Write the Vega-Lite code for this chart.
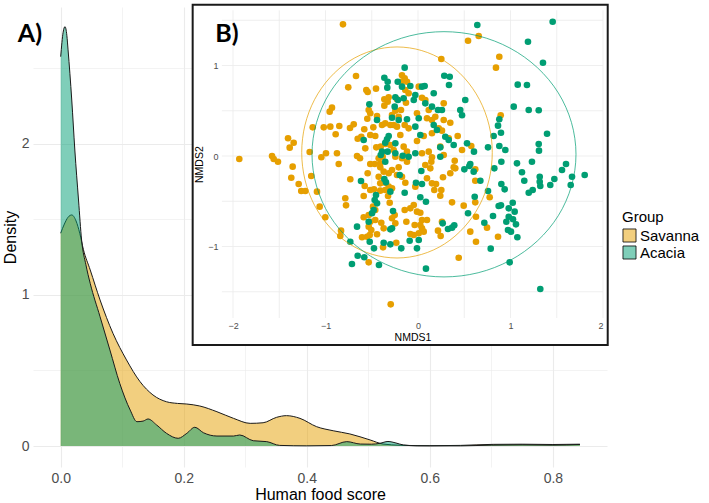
{
"$schema":"https://vega.github.io/schema/vega-lite/v6.json",
"width":574,"height":460,
"autosize":{"type":"none"},
"padding":{"left":33,"top":7,"right":102,"bottom":36},
"background":"white",
"config":{"view":{"stroke":null},"font":"Liberation Sans"},
"datasets":{
"density":[
{"Group":"Savanna","score":0.000,"density":1.409},{"Group":"Savanna","score":0.006,"density":1.47},{"Group":"Savanna","score":0.012,"density":1.515},{"Group":"Savanna","score":0.018,"density":1.530},{"Group":"Savanna","score":0.025,"density":1.49},{"Group":"Savanna","score":0.031,"density":1.409},{"Group":"Savanna","score":0.037,"density":1.30},{"Group":"Savanna","score":0.048,"density":1.166},{"Group":"Savanna","score":0.064,"density":0.967},{"Group":"Savanna","score":0.085,"density":0.746},{"Group":"Savanna","score":0.107,"density":0.570},{"Group":"Savanna","score":0.129,"density":0.426},{"Group":"Savanna","score":0.150,"density":0.338},{"Group":"Savanna","score":0.172,"density":0.293},{"Group":"Savanna","score":0.190,"density":0.282},{"Group":"Savanna","score":0.205,"density":0.278},{"Group":"Savanna","score":0.226,"density":0.265},{"Group":"Savanna","score":0.254,"density":0.227},{"Group":"Savanna","score":0.281,"density":0.183},{"Group":"Savanna","score":0.308,"density":0.150},{"Group":"Savanna","score":0.329,"density":0.154},{"Group":"Savanna","score":0.351,"density":0.190},{"Group":"Savanna","score":0.367,"density":0.201},{"Group":"Savanna","score":0.389,"density":0.183},{"Group":"Savanna","score":0.416,"density":0.128},{"Group":"Savanna","score":0.443,"density":0.101},{"Group":"Savanna","score":0.470,"density":0.080},{"Group":"Savanna","score":0.503,"density":0.040},{"Group":"Savanna","score":0.524,"density":0.013},{"Group":"Savanna","score":0.552,"density":0.005},{"Group":"Savanna","score":0.600,"density":0.002},{"Group":"Savanna","score":0.650,"density":0.004},{"Group":"Savanna","score":0.703,"density":0.011},{"Group":"Savanna","score":0.750,"density":0.012},{"Group":"Savanna","score":0.800,"density":0.010},{"Group":"Savanna","score":0.844,"density":0.012},
{"Group":"Acacia","score":0.000,"density":2.578},{"Group":"Acacia","score":0.004,"density":2.74},{"Group":"Acacia","score":0.007,"density":2.777},{"Group":"Acacia","score":0.010,"density":2.72},{"Group":"Acacia","score":0.012,"density":2.623},{"Group":"Acacia","score":0.018,"density":2.291},{"Group":"Acacia","score":0.023,"density":1.960},{"Group":"Acacia","score":0.029,"density":1.629},{"Group":"Acacia","score":0.034,"density":1.364},{"Group":"Acacia","score":0.041,"density":1.20},{"Group":"Acacia","score":0.048,"density":1.077},{"Group":"Acacia","score":0.064,"density":0.856},{"Group":"Acacia","score":0.080,"density":0.636},{"Group":"Acacia","score":0.096,"density":0.415},{"Group":"Acacia","score":0.113,"density":0.238},{"Group":"Acacia","score":0.124,"density":0.161},{"Group":"Acacia","score":0.134,"density":0.165},{"Group":"Acacia","score":0.142,"density":0.179},{"Group":"Acacia","score":0.156,"density":0.139},{"Group":"Acacia","score":0.172,"density":0.084},{"Group":"Acacia","score":0.191,"density":0.051},{"Group":"Acacia","score":0.205,"density":0.084},{"Group":"Acacia","score":0.218,"density":0.124},{"Group":"Acacia","score":0.232,"density":0.088},{"Group":"Acacia","score":0.254,"density":0.066},{"Group":"Acacia","score":0.281,"density":0.066},{"Group":"Acacia","score":0.291,"density":0.073},{"Group":"Acacia","score":0.313,"density":0.035},{"Group":"Acacia","score":0.335,"density":0.029},{"Group":"Acacia","score":0.356,"density":0.004},{"Group":"Acacia","score":0.400,"density":0.001},{"Group":"Acacia","score":0.440,"density":0.003},{"Group":"Acacia","score":0.465,"density":0.029},{"Group":"Acacia","score":0.487,"density":0.013},{"Group":"Acacia","score":0.505,"density":0.012},{"Group":"Acacia","score":0.519,"density":0.018},{"Group":"Acacia","score":0.532,"density":0.030},{"Group":"Acacia","score":0.545,"density":0.020},{"Group":"Acacia","score":0.557,"density":0.007},{"Group":"Acacia","score":0.580,"density":0.001},{"Group":"Acacia","score":0.650,"density":0.001},{"Group":"Acacia","score":0.700,"density":0.006},{"Group":"Acacia","score":0.750,"density":0.008},{"Group":"Acacia","score":0.800,"density":0.006},{"Group":"Acacia","score":0.844,"density":0.010}
],
"labelA":[{"label":"A)","score":-0.05,"density":2.725}],
"box":[{"NMDS1":-2.436,"NMDS1b":2.051,"NMDS2":-2.088,"NMDS2b":1.672}],
"gridV":[{"NMDS1":-2,"NMDS2":-1.79,"NMDS2b":1.61},{"NMDS1":-1.5,"NMDS2":-1.79,"NMDS2b":1.61},{"NMDS1":-1,"NMDS2":-1.79,"NMDS2b":1.61},{"NMDS1":-0.5,"NMDS2":-1.79,"NMDS2b":1.61},{"NMDS1":0,"NMDS2":-1.79,"NMDS2b":1.61},{"NMDS1":0.5,"NMDS2":-1.79,"NMDS2b":1.61},{"NMDS1":1,"NMDS2":-1.79,"NMDS2b":1.61},{"NMDS1":1.5,"NMDS2":-1.79,"NMDS2b":1.61},{"NMDS1":2,"NMDS2":-1.79,"NMDS2b":1.61}],
"gridH":[{"NMDS2":-1.5,"NMDS1":-2.12,"NMDS1b":2.0},{"NMDS2":-1,"NMDS1":-2.12,"NMDS1b":2.0},{"NMDS2":-0.5,"NMDS1":-2.12,"NMDS1b":2.0},{"NMDS2":0,"NMDS1":-2.12,"NMDS1b":2.0},{"NMDS2":0.5,"NMDS1":-2.12,"NMDS1b":2.0},{"NMDS2":1,"NMDS1":-2.12,"NMDS1b":2.0},{"NMDS2":1.5,"NMDS1":-2.12,"NMDS1b":2.0}],
"labelB":[{"label":"B)","NMDS1":-2.065,"NMDS2":1.348}],
"ellipse":[
{"Group":"Savanna","i":0,"NMDS1":0.803,"NMDS2":0.039},{"Group":"Savanna","i":1,"NMDS1":0.768,"NMDS2":0.341},{"Group":"Savanna","i":2,"NMDS1":0.665,"NMDS2":0.622},{"Group":"Savanna","i":3,"NMDS1":0.501,"NMDS2":0.863},{"Group":"Savanna","i":4,"NMDS1":0.288,"NMDS2":1.049},{"Group":"Savanna","i":5,"NMDS1":0.040,"NMDS2":1.165},{"Group":"Savanna","i":6,"NMDS1":-0.227,"NMDS2":1.205},{"Group":"Savanna","i":7,"NMDS1":-0.494,"NMDS2":1.165},{"Group":"Savanna","i":8,"NMDS1":-0.742,"NMDS2":1.049},{"Group":"Savanna","i":9,"NMDS1":-0.955,"NMDS2":0.863},{"Group":"Savanna","i":10,"NMDS1":-1.119,"NMDS2":0.622},{"Group":"Savanna","i":11,"NMDS1":-1.222,"NMDS2":0.341},{"Group":"Savanna","i":12,"NMDS1":-1.257,"NMDS2":0.039},{"Group":"Savanna","i":13,"NMDS1":-1.222,"NMDS2":-0.263},{"Group":"Savanna","i":14,"NMDS1":-1.119,"NMDS2":-0.544},{"Group":"Savanna","i":15,"NMDS1":-0.955,"NMDS2":-0.785},{"Group":"Savanna","i":16,"NMDS1":-0.742,"NMDS2":-0.971},{"Group":"Savanna","i":17,"NMDS1":-0.494,"NMDS2":-1.087},{"Group":"Savanna","i":18,"NMDS1":-0.227,"NMDS2":-1.127},{"Group":"Savanna","i":19,"NMDS1":0.040,"NMDS2":-1.087},{"Group":"Savanna","i":20,"NMDS1":0.288,"NMDS2":-0.971},{"Group":"Savanna","i":21,"NMDS1":0.501,"NMDS2":-0.785},{"Group":"Savanna","i":22,"NMDS1":0.665,"NMDS2":-0.544},{"Group":"Savanna","i":23,"NMDS1":0.768,"NMDS2":-0.263},
{"Group":"Acacia","i":0,"NMDS1":1.708,"NMDS2":0.019},{"Group":"Acacia","i":1,"NMDS1":1.659,"NMDS2":0.370},{"Group":"Acacia","i":2,"NMDS1":1.517,"NMDS2":0.697},{"Group":"Acacia","i":3,"NMDS1":1.290,"NMDS2":0.977},{"Group":"Acacia","i":4,"NMDS1":0.995,"NMDS2":1.192},{"Group":"Acacia","i":5,"NMDS1":0.650,"NMDS2":1.328},{"Group":"Acacia","i":6,"NMDS1":0.281,"NMDS2":1.374},{"Group":"Acacia","i":7,"NMDS1":-0.088,"NMDS2":1.328},{"Group":"Acacia","i":8,"NMDS1":-0.433,"NMDS2":1.192},{"Group":"Acacia","i":9,"NMDS1":-0.728,"NMDS2":0.977},{"Group":"Acacia","i":10,"NMDS1":-0.955,"NMDS2":0.697},{"Group":"Acacia","i":11,"NMDS1":-1.097,"NMDS2":0.370},{"Group":"Acacia","i":12,"NMDS1":-1.146,"NMDS2":0.019},{"Group":"Acacia","i":13,"NMDS1":-1.097,"NMDS2":-0.332},{"Group":"Acacia","i":14,"NMDS1":-0.955,"NMDS2":-0.659},{"Group":"Acacia","i":15,"NMDS1":-0.728,"NMDS2":-0.939},{"Group":"Acacia","i":16,"NMDS1":-0.433,"NMDS2":-1.154},{"Group":"Acacia","i":17,"NMDS1":-0.088,"NMDS2":-1.290},{"Group":"Acacia","i":18,"NMDS1":0.281,"NMDS2":-1.336},{"Group":"Acacia","i":19,"NMDS1":0.650,"NMDS2":-1.290},{"Group":"Acacia","i":20,"NMDS1":0.995,"NMDS2":-1.154},{"Group":"Acacia","i":21,"NMDS1":1.290,"NMDS2":-0.939},{"Group":"Acacia","i":22,"NMDS1":1.517,"NMDS2":-0.659},{"Group":"Acacia","i":23,"NMDS1":1.659,"NMDS2":-0.332}
],
"points":[
{"Group":"Savanna","NMDS1":-0.811,"NMDS2":1.455},{"Group":"Savanna","NMDS1":-0.670,"NMDS2":0.884},{"Group":"Savanna","NMDS1":-0.754,"NMDS2":0.759},{"Group":"Savanna","NMDS1":-0.559,"NMDS2":0.729},{"Group":"Savanna","NMDS1":-0.544,"NMDS2":0.707},{"Group":"Savanna","NMDS1":-0.454,"NMDS2":0.744},{"Group":"Savanna","NMDS1":-0.930,"NMDS2":0.534},{"Group":"Savanna","NMDS1":-0.955,"NMDS2":0.490},{"Group":"Savanna","NMDS1":-1.138,"NMDS2":0.317},{"Group":"Savanna","NMDS1":-1.019,"NMDS2":0.317},{"Group":"Savanna","NMDS1":-0.948,"NMDS2":0.324},{"Group":"Savanna","NMDS1":-0.851,"NMDS2":0.331},{"Group":"Savanna","NMDS1":-0.890,"NMDS2":0.240},{"Group":"Savanna","NMDS1":-0.735,"NMDS2":0.309},{"Group":"Savanna","NMDS1":-0.695,"NMDS2":0.350},{"Group":"Savanna","NMDS1":-1.405,"NMDS2":0.196},{"Group":"Savanna","NMDS1":-1.344,"NMDS2":0.147},{"Group":"Savanna","NMDS1":-1.387,"NMDS2":0.092},{"Group":"Savanna","NMDS1":-1.171,"NMDS2":0.044},{"Group":"Savanna","NMDS1":-1.045,"NMDS2":-0.014},{"Group":"Savanna","NMDS1":-0.995,"NMDS2":0.030},{"Group":"Savanna","NMDS1":-0.876,"NMDS2":0.030},{"Group":"Savanna","NMDS1":-1.932,"NMDS2":-0.033},{"Group":"Savanna","NMDS1":-1.578,"NMDS2":0.0},{"Group":"Savanna","NMDS1":-1.560,"NMDS2":-0.033},{"Group":"Savanna","NMDS1":-1.514,"NMDS2":-0.063},{"Group":"Savanna","NMDS1":-0.652,"NMDS2":0.191},{"Group":"Savanna","NMDS1":-0.613,"NMDS2":0.213},{"Group":"Savanna","NMDS1":-0.659,"NMDS2":0.0},{"Group":"Savanna","NMDS1":-0.627,"NMDS2":-0.025},{"Group":"Savanna","NMDS1":-0.570,"NMDS2":0.085},{"Group":"Savanna","NMDS1":-0.516,"NMDS2":0.232},{"Group":"Savanna","NMDS1":-0.462,"NMDS2":0.221},{"Group":"Savanna","NMDS1":-0.581,"NMDS2":0.295},{"Group":"Savanna","NMDS1":-0.483,"NMDS2":0.317},{"Group":"Savanna","NMDS1":-0.533,"NMDS2":0.508},{"Group":"Savanna","NMDS1":-0.516,"NMDS2":0.472},{"Group":"Savanna","NMDS1":-0.443,"NMDS2":0.442},{"Group":"Savanna","NMDS1":-0.548,"NMDS2":0.412},{"Group":"Savanna","NMDS1":-0.403,"NMDS2":0.103},{"Group":"Savanna","NMDS1":-0.451,"NMDS2":0.096},{"Group":"Savanna","NMDS1":-0.354,"NMDS2":0.133},{"Group":"Savanna","NMDS1":-0.364,"NMDS2":0.627},{"Group":"Savanna","NMDS1":-0.317,"NMDS2":0.649},{"Group":"Savanna","NMDS1":-0.328,"NMDS2":0.600},{"Group":"Savanna","NMDS1":-0.364,"NMDS2":0.556},{"Group":"Savanna","NMDS1":-0.389,"NMDS2":0.343},{"Group":"Savanna","NMDS1":-0.354,"NMDS2":0.361},{"Group":"Savanna","NMDS1":-0.173,"NMDS2":0.892},{"Group":"Savanna","NMDS1":-0.144,"NMDS2":0.859},{"Group":"Savanna","NMDS1":-0.184,"NMDS2":0.821},{"Group":"Savanna","NMDS1":-0.119,"NMDS2":0.821},{"Group":"Savanna","NMDS1":-0.137,"NMDS2":0.729},{"Group":"Savanna","NMDS1":-0.101,"NMDS2":0.693},{"Group":"Savanna","NMDS1":-0.227,"NMDS2":0.627},{"Group":"Savanna","NMDS1":-0.130,"NMDS2":0.589},{"Group":"Savanna","NMDS1":-0.245,"NMDS2":0.501},{"Group":"Savanna","NMDS1":-0.184,"NMDS2":0.508},{"Group":"Savanna","NMDS1":-0.281,"NMDS2":0.453},{"Group":"Savanna","NMDS1":-0.209,"NMDS2":0.434},{"Group":"Savanna","NMDS1":-0.299,"NMDS2":0.343},{"Group":"Savanna","NMDS1":-0.263,"NMDS2":0.343},{"Group":"Savanna","NMDS1":-0.227,"NMDS2":0.324},{"Group":"Savanna","NMDS1":-0.144,"NMDS2":0.343},{"Group":"Savanna","NMDS1":-0.101,"NMDS2":0.306},{"Group":"Savanna","NMDS1":-0.191,"NMDS2":0.232},{"Group":"Savanna","NMDS1":-0.299,"NMDS2":0.122},{"Group":"Savanna","NMDS1":-0.263,"NMDS2":0.066},{"Group":"Savanna","NMDS1":-0.155,"NMDS2":0.103},{"Group":"Savanna","NMDS1":-0.119,"NMDS2":0.048},{"Group":"Savanna","NMDS1":-0.245,"NMDS2":-0.008},{"Group":"Savanna","NMDS1":-0.173,"NMDS2":-0.025},{"Group":"Savanna","NMDS1":-0.119,"NMDS2":-0.063},{"Group":"Savanna","NMDS1":-0.425,"NMDS2":-0.025},{"Group":"Savanna","NMDS1":-0.382,"NMDS2":-0.008},
{"Group":"Savanna","NMDS1":0.656,"NMDS2":1.326},{"Group":"Savanna","NMDS1":0.541,"NMDS2":1.274},{"Group":"Savanna","NMDS1":0.252,"NMDS2":1.072},{"Group":"Savanna","NMDS1":0.879,"NMDS2":1.097},{"Group":"Savanna","NMDS1":0.843,"NMDS2":0.976},{"Group":"Savanna","NMDS1":0.008,"NMDS2":0.766},{"Group":"Savanna","NMDS1":0.043,"NMDS2":0.644},{"Group":"Savanna","NMDS1":0.079,"NMDS2":0.619},{"Group":"Savanna","NMDS1":0.278,"NMDS2":0.582},{"Group":"Savanna","NMDS1":-0.011,"NMDS2":0.472},{"Group":"Savanna","NMDS1":0.116,"NMDS2":0.508},{"Group":"Savanna","NMDS1":0.097,"NMDS2":0.417},{"Group":"Savanna","NMDS1":0.151,"NMDS2":0.398},{"Group":"Savanna","NMDS1":0.187,"NMDS2":0.434},{"Group":"Savanna","NMDS1":0.278,"NMDS2":0.398},{"Group":"Savanna","NMDS1":0.349,"NMDS2":0.368},{"Group":"Savanna","NMDS1":0.894,"NMDS2":0.450},{"Group":"Savanna","NMDS1":0.224,"NMDS2":0.306},{"Group":"Savanna","NMDS1":0.259,"NMDS2":0.280},{"Group":"Savanna","NMDS1":0.151,"NMDS2":0.251},{"Group":"Savanna","NMDS1":0.062,"NMDS2":0.221},{"Group":"Savanna","NMDS1":0.429,"NMDS2":0.221},{"Group":"Savanna","NMDS1":0.332,"NMDS2":0.196},{"Group":"Savanna","NMDS1":-0.011,"NMDS2":0.166},{"Group":"Savanna","NMDS1":0.241,"NMDS2":0.103},{"Group":"Savanna","NMDS1":0.116,"NMDS2":0.048},{"Group":"Savanna","NMDS1":0.043,"NMDS2":0.030},{"Group":"Savanna","NMDS1":0.476,"NMDS2":0.066},{"Group":"Savanna","NMDS1":0.576,"NMDS2":0.110},{"Group":"Savanna","NMDS1":0.278,"NMDS2":0.011},{"Group":"Savanna","NMDS1":0.151,"NMDS2":-0.014},{"Group":"Savanna","NMDS1":0.397,"NMDS2":-0.052},
{"Group":"Savanna","NMDS1":-1.355,"NMDS2":-0.118},{"Group":"Savanna","NMDS1":-1.370,"NMDS2":-0.240},{"Group":"Savanna","NMDS1":-1.290,"NMDS2":-0.309},{"Group":"Savanna","NMDS1":-1.262,"NMDS2":-0.387},{"Group":"Savanna","NMDS1":-1.218,"NMDS2":-0.387},{"Group":"Savanna","NMDS1":-1.154,"NMDS2":-0.221},{"Group":"Savanna","NMDS1":-1.092,"NMDS2":-0.394},{"Group":"Savanna","NMDS1":-1.063,"NMDS2":-0.560},{"Group":"Savanna","NMDS1":-1.002,"NMDS2":-0.677},{"Group":"Savanna","NMDS1":-0.857,"NMDS2":-0.088},{"Group":"Savanna","NMDS1":-0.732,"NMDS2":-0.257},{"Group":"Savanna","NMDS1":-0.786,"NMDS2":-0.467},{"Group":"Savanna","NMDS1":-0.778,"NMDS2":-0.545},{"Group":"Savanna","NMDS1":-0.832,"NMDS2":-0.825},{"Group":"Savanna","NMDS1":-0.840,"NMDS2":-0.884},{"Group":"Savanna","NMDS1":-0.544,"NMDS2":-0.191},{"Group":"Savanna","NMDS1":-0.576,"NMDS2":-0.331},{"Group":"Savanna","NMDS1":-0.587,"NMDS2":-0.442},{"Group":"Savanna","NMDS1":-0.516,"NMDS2":-0.376},{"Group":"Savanna","NMDS1":-0.476,"NMDS2":-0.368},{"Group":"Savanna","NMDS1":-0.516,"NMDS2":-0.088},{"Group":"Savanna","NMDS1":-0.468,"NMDS2":-0.088},{"Group":"Savanna","NMDS1":-0.408,"NMDS2":-0.081},{"Group":"Savanna","NMDS1":-0.425,"NMDS2":-0.229},{"Group":"Savanna","NMDS1":-0.354,"NMDS2":-0.295},{"Group":"Savanna","NMDS1":-0.408,"NMDS2":-0.302},{"Group":"Savanna","NMDS1":-0.408,"NMDS2":-0.125},{"Group":"Savanna","NMDS1":-0.371,"NMDS2":-0.173},{"Group":"Savanna","NMDS1":-0.317,"NMDS2":-0.191},{"Group":"Savanna","NMDS1":-0.281,"NMDS2":-0.155},{"Group":"Savanna","NMDS1":-0.227,"NMDS2":-0.210},{"Group":"Savanna","NMDS1":-0.173,"NMDS2":-0.229},{"Group":"Savanna","NMDS1":-0.209,"NMDS2":-0.125},{"Group":"Savanna","NMDS1":-0.137,"NMDS2":-0.295},{"Group":"Savanna","NMDS1":-0.324,"NMDS2":-0.442},{"Group":"Savanna","NMDS1":-0.306,"NMDS2":-0.516},{"Group":"Savanna","NMDS1":-0.281,"NMDS2":-0.357},{"Group":"Savanna","NMDS1":-0.317,"NMDS2":-0.339},{"Group":"Savanna","NMDS1":-0.408,"NMDS2":-0.383},{"Group":"Savanna","NMDS1":-0.354,"NMDS2":-0.376},{"Group":"Savanna","NMDS1":-0.587,"NMDS2":-0.677},{"Group":"Savanna","NMDS1":-0.533,"NMDS2":-0.652},{"Group":"Savanna","NMDS1":-0.516,"NMDS2":-0.726},{"Group":"Savanna","NMDS1":-0.533,"NMDS2":-0.781},{"Group":"Savanna","NMDS1":-0.462,"NMDS2":-0.707},{"Group":"Savanna","NMDS1":-0.397,"NMDS2":-0.737},{"Group":"Savanna","NMDS1":-0.505,"NMDS2":-0.818},{"Group":"Savanna","NMDS1":-0.443,"NMDS2":-0.865},{"Group":"Savanna","NMDS1":-0.605,"NMDS2":-0.898},{"Group":"Savanna","NMDS1":-0.551,"NMDS2":-0.892},{"Group":"Savanna","NMDS1":-0.522,"NMDS2":-0.873},{"Group":"Savanna","NMDS1":-0.371,"NMDS2":-0.799},{"Group":"Savanna","NMDS1":-0.252,"NMDS2":-0.652},{"Group":"Savanna","NMDS1":-0.245,"NMDS2":-0.744},{"Group":"Savanna","NMDS1":-0.281,"NMDS2":-0.688},{"Group":"Savanna","NMDS1":-0.144,"NMDS2":-0.597},{"Group":"Savanna","NMDS1":-0.083,"NMDS2":-0.578},{"Group":"Savanna","NMDS1":-0.126,"NMDS2":-0.726},{"Group":"Savanna","NMDS1":-0.083,"NMDS2":-0.862},{"Group":"Savanna","NMDS1":-0.235,"NMDS2":-0.958},{"Group":"Savanna","NMDS1":-0.378,"NMDS2":-1.009},{"Group":"Savanna","NMDS1":-0.533,"NMDS2":-1.175},{"Group":"Savanna","NMDS1":-0.295,"NMDS2":-1.639},{"Group":"Savanna","NMDS1":-0.486,"NMDS2":-0.560},{"Group":"Savanna","NMDS1":-0.462,"NMDS2":-0.597},
{"Group":"Savanna","NMDS1":0.079,"NMDS2":-0.099},{"Group":"Savanna","NMDS1":0.144,"NMDS2":-0.063},{"Group":"Savanna","NMDS1":0.133,"NMDS2":-0.136},{"Group":"Savanna","NMDS1":0.386,"NMDS2":-0.125},{"Group":"Savanna","NMDS1":0.403,"NMDS2":-0.136},{"Group":"Savanna","NMDS1":0.619,"NMDS2":-0.147},{"Group":"Savanna","NMDS1":0.349,"NMDS2":-0.191},{"Group":"Savanna","NMDS1":0.270,"NMDS2":-0.235},{"Group":"Savanna","NMDS1":0.619,"NMDS2":-0.273},{"Group":"Savanna","NMDS1":0.151,"NMDS2":-0.302},{"Group":"Savanna","NMDS1":0.195,"NMDS2":-0.309},{"Group":"Savanna","NMDS1":0.176,"NMDS2":-0.376},{"Group":"Savanna","NMDS1":0.252,"NMDS2":-0.376},{"Group":"Savanna","NMDS1":0.097,"NMDS2":-0.246},{"Group":"Savanna","NMDS1":-0.029,"NMDS2":-0.339},{"Group":"Savanna","NMDS1":0.241,"NMDS2":-0.439},{"Group":"Savanna","NMDS1":0.368,"NMDS2":-0.512},{"Group":"Savanna","NMDS1":0.494,"NMDS2":-0.549},{"Group":"Savanna","NMDS1":0.619,"NMDS2":-0.512},{"Group":"Savanna","NMDS1":0.775,"NMDS2":-0.456},{"Group":"Savanna","NMDS1":-0.046,"NMDS2":-0.541},{"Group":"Savanna","NMDS1":-0.011,"NMDS2":-0.615},{"Group":"Savanna","NMDS1":0.025,"NMDS2":-0.627},{"Group":"Savanna","NMDS1":0.043,"NMDS2":-0.707},{"Group":"Savanna","NMDS1":0.097,"NMDS2":-0.707},{"Group":"Savanna","NMDS1":-0.036,"NMDS2":-0.762},{"Group":"Savanna","NMDS1":0.025,"NMDS2":-0.762},{"Group":"Savanna","NMDS1":0.043,"NMDS2":-0.799},{"Group":"Savanna","NMDS1":0.008,"NMDS2":-0.854},{"Group":"Savanna","NMDS1":-0.046,"NMDS2":-0.873},{"Group":"Savanna","NMDS1":0.062,"NMDS2":-0.836},{"Group":"Savanna","NMDS1":0.627,"NMDS2":-0.671},{"Group":"Savanna","NMDS1":0.259,"NMDS2":-0.726},{"Group":"Savanna","NMDS1":0.746,"NMDS2":-0.792},{"Group":"Savanna","NMDS1":0.216,"NMDS2":-0.825},{"Group":"Savanna","NMDS1":0.245,"NMDS2":-0.884},{"Group":"Savanna","NMDS1":0.565,"NMDS2":-0.836},{"Group":"Savanna","NMDS1":0.627,"NMDS2":-0.947},{"Group":"Savanna","NMDS1":0.865,"NMDS2":-0.892},{"Group":"Savanna","NMDS1":0.440,"NMDS2":-1.124},
{"Group":"Acacia","NMDS1":-0.144,"NMDS2":0.976},{"Group":"Acacia","NMDS1":-0.364,"NMDS2":0.865},{"Group":"Acacia","NMDS1":-0.328,"NMDS2":0.821},{"Group":"Acacia","NMDS1":-0.332,"NMDS2":0.755},{"Group":"Acacia","NMDS1":-0.219,"NMDS2":0.821},{"Group":"Acacia","NMDS1":-0.173,"NMDS2":0.766},{"Group":"Acacia","NMDS1":-0.083,"NMDS2":0.773},{"Group":"Acacia","NMDS1":-0.245,"NMDS2":0.649},{"Group":"Acacia","NMDS1":-0.216,"NMDS2":0.619},{"Group":"Acacia","NMDS1":-0.155,"NMDS2":0.638},{"Group":"Acacia","NMDS1":-0.526,"NMDS2":0.571},{"Group":"Acacia","NMDS1":-0.252,"NMDS2":0.545},{"Group":"Acacia","NMDS1":-0.281,"NMDS2":0.423},{"Group":"Acacia","NMDS1":-0.209,"NMDS2":0.398},{"Group":"Acacia","NMDS1":-0.119,"NMDS2":0.406},{"Group":"Acacia","NMDS1":-0.443,"NMDS2":0.398},{"Group":"Acacia","NMDS1":-0.317,"NMDS2":0.221},{"Group":"Acacia","NMDS1":-0.335,"NMDS2":0.185},{"Group":"Acacia","NMDS1":-0.354,"NMDS2":0.147},{"Group":"Acacia","NMDS1":-0.587,"NMDS2":0.177},{"Group":"Acacia","NMDS1":-0.245,"NMDS2":0.140},{"Group":"Acacia","NMDS1":-0.389,"NMDS2":0.048},{"Group":"Acacia","NMDS1":-0.403,"NMDS2":0.011},{"Group":"Acacia","NMDS1":-0.328,"NMDS2":0.048},{"Group":"Acacia","NMDS1":-0.245,"NMDS2":0.030},{"Group":"Acacia","NMDS1":-0.165,"NMDS2":0.003},{"Group":"Acacia","NMDS1":-0.101,"NMDS2":-0.008},{"Group":"Acacia","NMDS1":-0.354,"NMDS2":-0.063},
{"Group":"Acacia","NMDS1":0.641,"NMDS2":1.448},{"Group":"Acacia","NMDS1":1.456,"NMDS2":1.484},{"Group":"Acacia","NMDS1":1.189,"NMDS2":1.263},{"Group":"Acacia","NMDS1":1.351,"NMDS2":1.031},{"Group":"Acacia","NMDS1":0.284,"NMDS2":0.887},{"Group":"Acacia","NMDS1":0.343,"NMDS2":0.876},{"Group":"Acacia","NMDS1":0.335,"NMDS2":0.785},{"Group":"Acacia","NMDS1":1.078,"NMDS2":0.788},{"Group":"Acacia","NMDS1":1.178,"NMDS2":0.785},{"Group":"Acacia","NMDS1":0.170,"NMDS2":0.693},{"Group":"Acacia","NMDS1":0.043,"NMDS2":0.766},{"Group":"Acacia","NMDS1":0.072,"NMDS2":0.773},{"Group":"Acacia","NMDS1":0.511,"NMDS2":0.619},{"Group":"Acacia","NMDS1":1.035,"NMDS2":0.545},{"Group":"Acacia","NMDS1":1.197,"NMDS2":0.508},{"Group":"Acacia","NMDS1":1.305,"NMDS2":0.505},{"Group":"Acacia","NMDS1":0.457,"NMDS2":0.508},{"Group":"Acacia","NMDS1":0.476,"NMDS2":0.450},{"Group":"Acacia","NMDS1":0.879,"NMDS2":0.406},{"Group":"Acacia","NMDS1":0.865,"NMDS2":0.335},{"Group":"Acacia","NMDS1":0.897,"NMDS2":0.257},{"Group":"Acacia","NMDS1":0.818,"NMDS2":0.221},{"Group":"Acacia","NMDS1":1.395,"NMDS2":0.246},{"Group":"Acacia","NMDS1":1.305,"NMDS2":0.133},{"Group":"Acacia","NMDS1":1.308,"NMDS2":0.059},{"Group":"Acacia","NMDS1":0.879,"NMDS2":0.110},{"Group":"Acacia","NMDS1":0.944,"NMDS2":0.066},{"Group":"Acacia","NMDS1":0.757,"NMDS2":0.096},{"Group":"Acacia","NMDS1":0.605,"NMDS2":0.048},{"Group":"Acacia","NMDS1":0.530,"NMDS2":0.140},{"Group":"Acacia","NMDS1":0.386,"NMDS2":0.122},{"Group":"Acacia","NMDS1":0.332,"NMDS2":0.177},{"Group":"Acacia","NMDS1":0.295,"NMDS2":0.213},{"Group":"Acacia","NMDS1":0.259,"NMDS2":0.508},{"Group":"Acacia","NMDS1":0.216,"NMDS2":0.508},{"Group":"Acacia","NMDS1":-0.046,"NMDS2":0.619},{"Group":"Acacia","NMDS1":-0.029,"NMDS2":0.674},{"Group":"Acacia","NMDS1":0.079,"NMDS2":0.582},{"Group":"Acacia","NMDS1":0.151,"NMDS2":0.545},{"Group":"Acacia","NMDS1":0.008,"NMDS2":0.417},{"Group":"Acacia","NMDS1":-0.029,"NMDS2":0.324},{"Group":"Acacia","NMDS1":0.170,"NMDS2":0.343},{"Group":"Acacia","NMDS1":0.205,"NMDS2":0.287},{"Group":"Acacia","NMDS1":0.241,"NMDS2":0.096},{"Group":"Acacia","NMDS1":0.241,"NMDS2":-0.008},{"Group":"Acacia","NMDS1":0.025,"NMDS2":0.232},{"Group":"Acacia","NMDS1":-0.029,"NMDS2":0.030},{"Group":"Acacia","NMDS1":0.901,"NMDS2":-0.063},{"Group":"Acacia","NMDS1":1.070,"NMDS2":-0.081},{"Group":"Acacia","NMDS1":1.232,"NMDS2":-0.063},{"Group":"Acacia","NMDS1":1.600,"NMDS2":-0.088},{"Group":"Acacia","NMDS1":0.565,"NMDS2":-0.088},
{"Group":"Acacia","NMDS1":-0.616,"NMDS2":-0.276},{"Group":"Acacia","NMDS1":-0.364,"NMDS2":-0.254},{"Group":"Acacia","NMDS1":-0.346,"NMDS2":-0.291},{"Group":"Acacia","NMDS1":-0.198,"NMDS2":-0.210},{"Group":"Acacia","NMDS1":-0.144,"NMDS2":-0.406},{"Group":"Acacia","NMDS1":-0.299,"NMDS2":-0.394},{"Group":"Acacia","NMDS1":-0.454,"NMDS2":-0.431},{"Group":"Acacia","NMDS1":-0.468,"NMDS2":-0.486},{"Group":"Acacia","NMDS1":-0.443,"NMDS2":-0.523},{"Group":"Acacia","NMDS1":-0.479,"NMDS2":-0.597},{"Group":"Acacia","NMDS1":-0.497,"NMDS2":-0.633},{"Group":"Acacia","NMDS1":-0.270,"NMDS2":-0.608},{"Group":"Acacia","NMDS1":-0.533,"NMDS2":-0.726},{"Group":"Acacia","NMDS1":-0.281,"NMDS2":-0.799},{"Group":"Acacia","NMDS1":-0.299,"NMDS2":-0.810},{"Group":"Acacia","NMDS1":-0.659,"NMDS2":-0.781},{"Group":"Acacia","NMDS1":-0.732,"NMDS2":-0.947},{"Group":"Acacia","NMDS1":-0.522,"NMDS2":-0.947},{"Group":"Acacia","NMDS1":-0.371,"NMDS2":-0.958},{"Group":"Acacia","NMDS1":-0.299,"NMDS2":-0.976},{"Group":"Acacia","NMDS1":-0.476,"NMDS2":-1.020},{"Group":"Acacia","NMDS1":-0.181,"NMDS2":-1.020},{"Group":"Acacia","NMDS1":-0.090,"NMDS2":-0.936},{"Group":"Acacia","NMDS1":-0.652,"NMDS2":-1.102},{"Group":"Acacia","NMDS1":-0.581,"NMDS2":-1.119},{"Group":"Acacia","NMDS1":-0.714,"NMDS2":-1.193},{"Group":"Acacia","NMDS1":-0.422,"NMDS2":-1.204},
{"Group":"Acacia","NMDS1":0.501,"NMDS2":-0.147},{"Group":"Acacia","NMDS1":0.555,"NMDS2":-0.110},{"Group":"Acacia","NMDS1":0.602,"NMDS2":-0.173},{"Group":"Acacia","NMDS1":0.674,"NMDS2":-0.273},{"Group":"Acacia","NMDS1":0.825,"NMDS2":-0.136},{"Group":"Acacia","NMDS1":1.124,"NMDS2":-0.180},{"Group":"Acacia","NMDS1":1.149,"NMDS2":-0.273},{"Group":"Acacia","NMDS1":0.901,"NMDS2":-0.309},{"Group":"Acacia","NMDS1":0.937,"NMDS2":-0.368},{"Group":"Acacia","NMDS1":0.757,"NMDS2":-0.387},{"Group":"Acacia","NMDS1":1.316,"NMDS2":-0.229},{"Group":"Acacia","NMDS1":1.316,"NMDS2":-0.284},{"Group":"Acacia","NMDS1":1.322,"NMDS2":-0.331},{"Group":"Acacia","NMDS1":1.197,"NMDS2":-0.406},{"Group":"Acacia","NMDS1":1.240,"NMDS2":-0.376},{"Group":"Acacia","NMDS1":1.430,"NMDS2":-0.320},{"Group":"Acacia","NMDS1":1.474,"NMDS2":-0.254},{"Group":"Acacia","NMDS1":1.557,"NMDS2":-0.155},{"Group":"Acacia","NMDS1":1.665,"NMDS2":-0.229},{"Group":"Acacia","NMDS1":1.651,"NMDS2":-0.320},{"Group":"Acacia","NMDS1":1.802,"NMDS2":-0.210},{"Group":"Acacia","NMDS1":0.613,"NMDS2":-0.450},{"Group":"Acacia","NMDS1":0.872,"NMDS2":-0.552},{"Group":"Acacia","NMDS1":0.897,"NMDS2":-0.545},{"Group":"Acacia","NMDS1":1.024,"NMDS2":-0.516},{"Group":"Acacia","NMDS1":0.981,"NMDS2":-0.578},{"Group":"Acacia","NMDS1":1.045,"NMDS2":-0.615},{"Group":"Acacia","NMDS1":0.981,"NMDS2":-0.671},{"Group":"Acacia","NMDS1":1.027,"NMDS2":-0.699},{"Group":"Acacia","NMDS1":0.955,"NMDS2":-0.726},{"Group":"Acacia","NMDS1":1.059,"NMDS2":-0.755},{"Group":"Acacia","NMDS1":0.973,"NMDS2":-0.818},{"Group":"Acacia","NMDS1":1.005,"NMDS2":-0.836},{"Group":"Acacia","NMDS1":1.074,"NMDS2":-0.898},{"Group":"Acacia","NMDS1":0.811,"NMDS2":-0.663},{"Group":"Acacia","NMDS1":0.717,"NMDS2":-0.737},{"Group":"Acacia","NMDS1":0.541,"NMDS2":-0.633},{"Group":"Acacia","NMDS1":0.267,"NMDS2":-0.744},{"Group":"Acacia","NMDS1":0.324,"NMDS2":-0.807},{"Group":"Acacia","NMDS1":0.368,"NMDS2":-0.792},{"Group":"Acacia","NMDS1":0.392,"NMDS2":-0.766},{"Group":"Acacia","NMDS1":0.786,"NMDS2":-1.024},{"Group":"Acacia","NMDS1":0.991,"NMDS2":-1.175},{"Group":"Acacia","NMDS1":1.322,"NMDS2":-1.470},{"Group":"Acacia","NMDS1":0.086,"NMDS2":-1.245},{"Group":"Acacia","NMDS1":-0.011,"NMDS2":-1.020},{"Group":"Acacia","NMDS1":0.008,"NMDS2":-0.928},{"Group":"Acacia","NMDS1":0.086,"NMDS2":-0.505},{"Group":"Acacia","NMDS1":0.025,"NMDS2":-0.456},{"Group":"Acacia","NMDS1":-0.022,"NMDS2":-0.295},{"Group":"Acacia","NMDS1":0.043,"NMDS2":-0.309},{"Group":"Acacia","NMDS1":0.036,"NMDS2":-0.166}
]
},
"layer":[
{
"layer":[
{"data":{"name":"density"},"transform":[{"filter":"datum.Group==='Savanna'"}],
 "mark":{"type":"area","fillOpacity":0.5,"interpolate":"monotone"},
 "encoding":{
  "x":{"field":"score","type":"quantitative","scale":{"domain":[-0.045,0.888],"nice":false,"zero":false},"axis":{"title":"Human food score","values":[0,0.1,0.2,0.3,0.4,0.5,0.6,0.7,0.8],"labelExpr":"round(datum.value*10)%2==0 ? format(datum.value,'.1f') : ''","grid":true,"gridColor":"#EBEBEB","gridWidth":{"condition":{"test":"round(datum.value*10)%2==0","value":1.1},"value":0.6},"domain":false,"ticks":false,"labelFontSize":14,"labelColor":"#4D4D4D","labelPadding":4,"titleFontSize":16,"titleFontWeight":"normal","titleColor":"black","titlePadding":1}},
  "y":{"field":"density","type":"quantitative","stack":null,"scale":{"domain":[-0.139,2.907],"nice":false,"zero":false},"axis":{"title":"Density","values":[0,0.5,1,1.5,2,2.5],"labelExpr":"datum.value%1==0 ? format(datum.value,'d') : ''","grid":true,"gridColor":"#EBEBEB","gridWidth":{"condition":{"test":"datum.value%1==0","value":1.1},"value":0.6},"domain":false,"ticks":false,"labelFontSize":14,"labelColor":"#4D4D4D","labelPadding":4,"titleFontSize":16,"titleFontWeight":"normal","titleColor":"black","titlePadding":3}},
  "color":{"field":"Group","type":"nominal","scale":{"domain":["Savanna","Acacia"],"range":["#E69F00","#009E73"]},"legend":{"title":"Group","orient":"none","legendX":589,"legendY":203,"symbolType":"square","symbolSize":170,"symbolStrokeColor":"black","symbolStrokeWidth":0.8,"titleFontSize":15,"titleFontWeight":"normal","titleColor":"black","labelFontSize":15,"labelColor":"black","rowPadding":0,"labelOffset":3,"titlePadding":3,"encode":{"symbols":{"update":{"fillOpacity":{"value":0.5},"stroke":{"value":"black"},"strokeWidth":{"value":0.8}}}}}}
 }},
{"data":{"name":"density"},"transform":[{"filter":"datum.Group==='Savanna'"}],
 "mark":{"type":"line","color":"#1a1a1a","strokeWidth":1,"interpolate":"monotone"},
 "encoding":{
  "x":{"field":"score","type":"quantitative","scale":{"domain":[-0.045,0.888],"nice":false,"zero":false},"axis":{"title":"Human food score","values":[0,0.1,0.2,0.3,0.4,0.5,0.6,0.7,0.8],"labelExpr":"round(datum.value*10)%2==0 ? format(datum.value,'.1f') : ''","grid":true,"gridColor":"#EBEBEB","gridWidth":{"condition":{"test":"round(datum.value*10)%2==0","value":1.1},"value":0.6},"domain":false,"ticks":false,"labelFontSize":14,"labelColor":"#4D4D4D","labelPadding":4,"titleFontSize":16,"titleFontWeight":"normal","titleColor":"black","titlePadding":1}},
  "y":{"field":"density","type":"quantitative","stack":null,"scale":{"domain":[-0.139,2.907],"nice":false,"zero":false},"axis":{"title":"Density","values":[0,0.5,1,1.5,2,2.5],"labelExpr":"datum.value%1==0 ? format(datum.value,'d') : ''","grid":true,"gridColor":"#EBEBEB","gridWidth":{"condition":{"test":"datum.value%1==0","value":1.1},"value":0.6},"domain":false,"ticks":false,"labelFontSize":14,"labelColor":"#4D4D4D","labelPadding":4,"titleFontSize":16,"titleFontWeight":"normal","titleColor":"black","titlePadding":3}}
 }},
{"data":{"name":"density"},"transform":[{"filter":"datum.Group==='Acacia'"}],
 "mark":{"type":"area","fillOpacity":0.5,"interpolate":"monotone"},
 "encoding":{
  "x":{"field":"score","type":"quantitative","scale":{"domain":[-0.045,0.888],"nice":false,"zero":false},"axis":{"title":"Human food score","values":[0,0.1,0.2,0.3,0.4,0.5,0.6,0.7,0.8],"labelExpr":"round(datum.value*10)%2==0 ? format(datum.value,'.1f') : ''","grid":true,"gridColor":"#EBEBEB","gridWidth":{"condition":{"test":"round(datum.value*10)%2==0","value":1.1},"value":0.6},"domain":false,"ticks":false,"labelFontSize":14,"labelColor":"#4D4D4D","labelPadding":4,"titleFontSize":16,"titleFontWeight":"normal","titleColor":"black","titlePadding":1}},
  "y":{"field":"density","type":"quantitative","stack":null,"scale":{"domain":[-0.139,2.907],"nice":false,"zero":false},"axis":{"title":"Density","values":[0,0.5,1,1.5,2,2.5],"labelExpr":"datum.value%1==0 ? format(datum.value,'d') : ''","grid":true,"gridColor":"#EBEBEB","gridWidth":{"condition":{"test":"datum.value%1==0","value":1.1},"value":0.6},"domain":false,"ticks":false,"labelFontSize":14,"labelColor":"#4D4D4D","labelPadding":4,"titleFontSize":16,"titleFontWeight":"normal","titleColor":"black","titlePadding":3}},
  "color":{"field":"Group","type":"nominal","scale":{"domain":["Savanna","Acacia"],"range":["#E69F00","#009E73"]},"legend":{"title":"Group","orient":"none","legendX":589,"legendY":203,"symbolType":"square","symbolSize":170,"symbolStrokeColor":"black","symbolStrokeWidth":0.8,"titleFontSize":15,"titleFontWeight":"normal","titleColor":"black","labelFontSize":15,"labelColor":"black","rowPadding":0,"labelOffset":3,"titlePadding":3,"encode":{"symbols":{"update":{"fillOpacity":{"value":0.5},"stroke":{"value":"black"},"strokeWidth":{"value":0.8}}}}}}
 }},
{"data":{"name":"density"},"transform":[{"filter":"datum.Group==='Acacia'"}],
 "mark":{"type":"line","color":"#1a1a1a","strokeWidth":1,"interpolate":"monotone"},
 "encoding":{
  "x":{"field":"score","type":"quantitative","scale":{"domain":[-0.045,0.888],"nice":false,"zero":false},"axis":{"title":"Human food score","values":[0,0.1,0.2,0.3,0.4,0.5,0.6,0.7,0.8],"labelExpr":"round(datum.value*10)%2==0 ? format(datum.value,'.1f') : ''","grid":true,"gridColor":"#EBEBEB","gridWidth":{"condition":{"test":"round(datum.value*10)%2==0","value":1.1},"value":0.6},"domain":false,"ticks":false,"labelFontSize":14,"labelColor":"#4D4D4D","labelPadding":4,"titleFontSize":16,"titleFontWeight":"normal","titleColor":"black","titlePadding":1}},
  "y":{"field":"density","type":"quantitative","stack":null,"scale":{"domain":[-0.139,2.907],"nice":false,"zero":false},"axis":{"title":"Density","values":[0,0.5,1,1.5,2,2.5],"labelExpr":"datum.value%1==0 ? format(datum.value,'d') : ''","grid":true,"gridColor":"#EBEBEB","gridWidth":{"condition":{"test":"datum.value%1==0","value":1.1},"value":0.6},"domain":false,"ticks":false,"labelFontSize":14,"labelColor":"#4D4D4D","labelPadding":4,"titleFontSize":16,"titleFontWeight":"normal","titleColor":"black","titlePadding":3}}
 }},
{"data":{"name":"labelA"},
 "mark":{"type":"text","font":"Lato","fontWeight":"bold","fontSize":25,"align":"center","baseline":"middle","color":"black"},
 "encoding":{
  "x":{"field":"score","type":"quantitative","scale":{"domain":[-0.045,0.888],"nice":false,"zero":false},"axis":{"title":"Human food score","values":[0,0.1,0.2,0.3,0.4,0.5,0.6,0.7,0.8],"labelExpr":"round(datum.value*10)%2==0 ? format(datum.value,'.1f') : ''","grid":true,"gridColor":"#EBEBEB","gridWidth":{"condition":{"test":"round(datum.value*10)%2==0","value":1.1},"value":0.6},"domain":false,"ticks":false,"labelFontSize":14,"labelColor":"#4D4D4D","labelPadding":4,"titleFontSize":16,"titleFontWeight":"normal","titleColor":"black","titlePadding":1}},
  "y":{"field":"density","type":"quantitative","scale":{"domain":[-0.139,2.907],"nice":false,"zero":false},"axis":{"title":"Density","values":[0,0.5,1,1.5,2,2.5],"labelExpr":"datum.value%1==0 ? format(datum.value,'d') : ''","grid":true,"gridColor":"#EBEBEB","gridWidth":{"condition":{"test":"datum.value%1==0","value":1.1},"value":0.6},"domain":false,"ticks":false,"labelFontSize":14,"labelColor":"#4D4D4D","labelPadding":4,"titleFontSize":16,"titleFontWeight":"normal","titleColor":"black","titlePadding":3}},
  "text":{"field":"label","type":"nominal"}
 }}
]
},
{
"layer":[
{"data":{"name":"box"},
 "mark":{"type":"rect","fill":"white","stroke":"#1a1a1a","strokeWidth":2},
 "encoding":{
  "x":{"field":"NMDS1","type":"quantitative","scale":{"domain":[-2.12,2.0],"range":[188.9,570],"nice":false,"zero":false},"axis":{"title":"NMDS1","values":[-2,-1,0,1,2],"orient":"bottom","offset":-149,"grid":false,"domain":false,"ticks":false,"labelFontSize":9,"labelColor":"#4D4D4D","labelPadding":3,"titleFontSize":10.5,"titleFontWeight":"normal","titleColor":"black","titlePadding":2,"zindex":1}},
  "x2":{"field":"NMDS1b"},
  "y":{"field":"NMDS2","type":"quantitative","scale":{"domain":[-1.79,1.61],"range":[311,3.3],"nice":false,"zero":false},"axis":{"title":"NMDS2","values":[-1,0,1],"orient":"left","offset":-189,"grid":false,"domain":false,"ticks":false,"labelFontSize":9,"labelColor":"#4D4D4D","labelPadding":4,"titleFontSize":10.5,"titleFontWeight":"normal","titleColor":"black","titlePadding":3,"zindex":1}},
  "y2":{"field":"NMDS2b"}
 }},
{"data":{"name":"gridV"},
 "mark":{"type":"rule","color":"#EBEBEB","strokeWidth":0.8},
 "encoding":{
  "x":{"field":"NMDS1","type":"quantitative","scale":{"domain":[-2.12,2.0],"range":[188.9,570],"nice":false,"zero":false},"axis":{"title":"NMDS1","values":[-2,-1,0,1,2],"orient":"bottom","offset":-149,"grid":false,"domain":false,"ticks":false,"labelFontSize":9,"labelColor":"#4D4D4D","labelPadding":3,"titleFontSize":10.5,"titleFontWeight":"normal","titleColor":"black","titlePadding":2,"zindex":1}},
  "y":{"field":"NMDS2","type":"quantitative","scale":{"domain":[-1.79,1.61],"range":[311,3.3],"nice":false,"zero":false},"axis":{"title":"NMDS2","values":[-1,0,1],"orient":"left","offset":-189,"grid":false,"domain":false,"ticks":false,"labelFontSize":9,"labelColor":"#4D4D4D","labelPadding":4,"titleFontSize":10.5,"titleFontWeight":"normal","titleColor":"black","titlePadding":3,"zindex":1}},
  "y2":{"field":"NMDS2b"}
 }},
{"data":{"name":"gridH"},
 "mark":{"type":"rule","color":"#EBEBEB","strokeWidth":0.8},
 "encoding":{
  "x":{"field":"NMDS1","type":"quantitative","scale":{"domain":[-2.12,2.0],"range":[188.9,570],"nice":false,"zero":false},"axis":{"title":"NMDS1","values":[-2,-1,0,1,2],"orient":"bottom","offset":-149,"grid":false,"domain":false,"ticks":false,"labelFontSize":9,"labelColor":"#4D4D4D","labelPadding":3,"titleFontSize":10.5,"titleFontWeight":"normal","titleColor":"black","titlePadding":2,"zindex":1}},
  "x2":{"field":"NMDS1b"},
  "y":{"field":"NMDS2","type":"quantitative","scale":{"domain":[-1.79,1.61],"range":[311,3.3],"nice":false,"zero":false},"axis":{"title":"NMDS2","values":[-1,0,1],"orient":"left","offset":-189,"grid":false,"domain":false,"ticks":false,"labelFontSize":9,"labelColor":"#4D4D4D","labelPadding":4,"titleFontSize":10.5,"titleFontWeight":"normal","titleColor":"black","titlePadding":3,"zindex":1}}
 }},
{"data":{"name":"points"},
 "mark":{"type":"circle","size":44,"opacity":1},
 "encoding":{
  "x":{"field":"NMDS1","type":"quantitative","scale":{"domain":[-2.12,2.0],"range":[188.9,570],"nice":false,"zero":false},"axis":{"title":"NMDS1","values":[-2,-1,0,1,2],"orient":"bottom","offset":-149,"grid":false,"domain":false,"ticks":false,"labelFontSize":9,"labelColor":"#4D4D4D","labelPadding":3,"titleFontSize":10.5,"titleFontWeight":"normal","titleColor":"black","titlePadding":2,"zindex":1}},
  "y":{"field":"NMDS2","type":"quantitative","scale":{"domain":[-1.79,1.61],"range":[311,3.3],"nice":false,"zero":false},"axis":{"title":"NMDS2","values":[-1,0,1],"orient":"left","offset":-189,"grid":false,"domain":false,"ticks":false,"labelFontSize":9,"labelColor":"#4D4D4D","labelPadding":4,"titleFontSize":10.5,"titleFontWeight":"normal","titleColor":"black","titlePadding":3,"zindex":1}},
  "color":{"field":"Group","type":"nominal","scale":{"domain":["Savanna","Acacia"],"range":["#E69F00","#009E73"]},"legend":null}
 }},
{"data":{"name":"ellipse"},
 "mark":{"type":"line","strokeWidth":1,"strokeOpacity":0.7,"interpolate":"cardinal-closed"},
 "encoding":{
  "x":{"field":"NMDS1","type":"quantitative","scale":{"domain":[-2.12,2.0],"range":[188.9,570],"nice":false,"zero":false},"axis":{"title":"NMDS1","values":[-2,-1,0,1,2],"orient":"bottom","offset":-149,"grid":false,"domain":false,"ticks":false,"labelFontSize":9,"labelColor":"#4D4D4D","labelPadding":3,"titleFontSize":10.5,"titleFontWeight":"normal","titleColor":"black","titlePadding":2,"zindex":1}},
  "y":{"field":"NMDS2","type":"quantitative","scale":{"domain":[-1.79,1.61],"range":[311,3.3],"nice":false,"zero":false},"axis":{"title":"NMDS2","values":[-1,0,1],"orient":"left","offset":-189,"grid":false,"domain":false,"ticks":false,"labelFontSize":9,"labelColor":"#4D4D4D","labelPadding":4,"titleFontSize":10.5,"titleFontWeight":"normal","titleColor":"black","titlePadding":3,"zindex":1}},
  "color":{"field":"Group","type":"nominal","scale":{"domain":["Savanna","Acacia"],"range":["#E69F00","#009E73"]},"legend":null},
  "order":{"field":"i","type":"quantitative"}
 }},
{"data":{"name":"labelB"},
 "mark":{"type":"text","font":"Lato","fontWeight":"bold","fontSize":25,"align":"center","baseline":"middle","color":"black"},
 "encoding":{
  "x":{"field":"NMDS1","type":"quantitative","scale":{"domain":[-2.12,2.0],"range":[188.9,570],"nice":false,"zero":false},"axis":{"title":"NMDS1","values":[-2,-1,0,1,2],"orient":"bottom","offset":-149,"grid":false,"domain":false,"ticks":false,"labelFontSize":9,"labelColor":"#4D4D4D","labelPadding":3,"titleFontSize":10.5,"titleFontWeight":"normal","titleColor":"black","titlePadding":2,"zindex":1}},
  "y":{"field":"NMDS2","type":"quantitative","scale":{"domain":[-1.79,1.61],"range":[311,3.3],"nice":false,"zero":false},"axis":{"title":"NMDS2","values":[-1,0,1],"orient":"left","offset":-189,"grid":false,"domain":false,"ticks":false,"labelFontSize":9,"labelColor":"#4D4D4D","labelPadding":4,"titleFontSize":10.5,"titleFontWeight":"normal","titleColor":"black","titlePadding":3,"zindex":1}},
  "text":{"field":"label","type":"nominal"}
 }}
]
}
],
"resolve":{"scale":{"x":"independent","y":"independent","color":"independent"},"axis":{"x":"independent","y":"independent"},"legend":{"color":"independent"}}
}
